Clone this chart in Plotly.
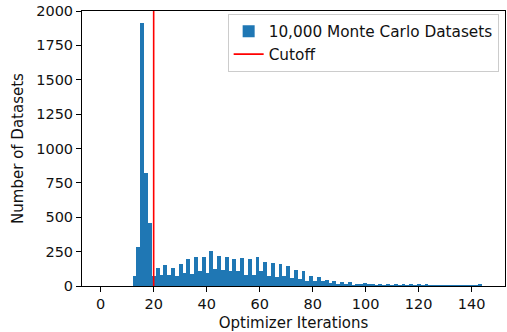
import numpy as np
import plotly.graph_objects as go

# Histogram data (bins of equal width starting at BIN_START)
BIN_START = 12.05
BIN_WIDTH = 1.45
counts = [
    73, 281, 1914, 819, 460, 73, 131, 78, 153, 78,
    128, 70, 160, 94, 196, 87, 208, 109, 208, 94,
    252, 124, 218, 115, 214, 109, 196, 107, 207, 78,
    199, 77, 208, 106, 172, 71, 166, 69, 157, 71,
    142, 57, 117, 48, 109, 40, 73, 35, 65, 33,
    44, 22, 36, 15, 27, 8, 26, 5, 18, 8,
    21, 8, 14, 7, 12, 4, 11, 4, 10, 3,
    9, 3, 10, 2, 8, 3, 9, 2, 7, 2,
    6, 2, 5, 1, 5, 1, 4, 1, 3, 1, 14,
]
cutoff = 20
series_name = "10,000 Monte Carlo Datasets"
cutoff_name = "Cutoff"
x_ticks = [0, 20, 40, 60, 80, 100, 120, 140]
y_ticks = [0, 250, 500, 750, 1000, 1250, 1500, 1750, 2000]

edges = BIN_START + BIN_WIDTH * np.arange(len(counts) + 1)
centers = (edges[:-1] + edges[1:]) / 2

FONT = "DejaVu Sans"
fig = go.Figure()
fig.add_trace(go.Bar(
    x=centers, y=counts, width=BIN_WIDTH,
    marker=dict(color="#1f77b4", line=dict(width=0)),
    name=series_name,
))
fig.add_trace(go.Scatter(
    x=[cutoff, cutoff], y=[0, 2000], mode="lines",
    line=dict(color="red", width=1.6), name=cutoff_name,
))

fig.update_layout(
    width=507, height=332,
    margin=dict(l=82, r=2, t=11, b=46),
    paper_bgcolor="white", plot_bgcolor="white",
    font=dict(family=FONT, size=14.5, color="#111111"),
    bargap=0,
    showlegend=True,
    legend=dict(
        x=0.985, y=0.99, xanchor="right", yanchor="top",
        bgcolor="rgba(255,255,255,0.8)", bordercolor="#cccccc", borderwidth=1,
        font=dict(family=FONT, size=15.3, color="#111111"),
        tracegroupgap=2, itemwidth=30,
    ),
    xaxis=dict(
        range=[-7.05, 152.6], tickvals=x_ticks,
        showline=True, linecolor="black", linewidth=1, mirror=True,
        ticks="outside", ticklen=5, tickcolor="black", showgrid=False, zeroline=False,
        title=dict(text="Optimizer Iterations", standoff=7, font=dict(size=15)),
    ),
    yaxis=dict(
        range=[0, 2000], tickvals=y_ticks,
        showline=True, linecolor="black", linewidth=1, mirror=True,
        ticks="outside", ticklen=5, tickcolor="black", showgrid=False, zeroline=False,
        title=dict(text="Number of Datasets", standoff=8, font=dict(size=15)),
    ),
)
fig.write_html("out.html")
